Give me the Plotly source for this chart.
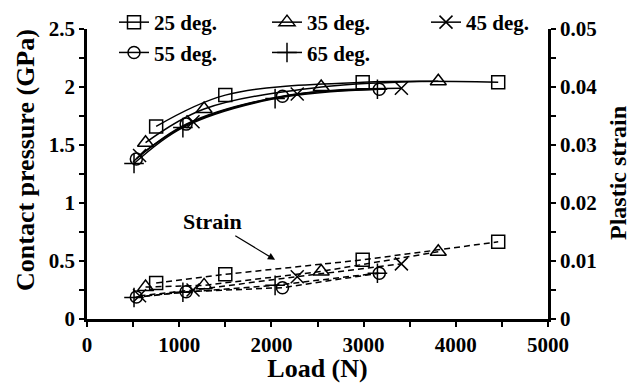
import plotly.graph_objects as go

# ---------------- data ----------------
series_names = ["25 deg.", "35 deg.", "45 deg.", "55 deg.", "65 deg."]
load_25 = [750, 1500, 2990, 4460]
load_35 = [635, 1270, 2540, 3810]
load_45 = [570, 1150, 2280, 3410]
load_55 = [535, 1075, 2120, 3170]
load_65 = [510, 1040, 2040, 3150]

pressure_25 = [1.66, 1.93, 2.04, 2.04]
pressure_35 = [1.52, 1.81, 2.00, 2.05]
pressure_45 = [1.41, 1.70, 1.94, 1.99]
pressure_55 = [1.38, 1.68, 1.92, 1.98]
pressure_65 = [1.34, 1.65, 1.90, 1.98]

strain_25 = [0.0062, 0.0077, 0.0102, 0.0133]
strain_35 = [0.0055, 0.0058, 0.0082, 0.0116]
strain_45 = [0.0040, 0.0050, 0.0073, 0.0095]
strain_55 = [0.0038, 0.0047, 0.0054, 0.0079]
strain_65 = [0.0037, 0.0046, 0.0058, 0.0079]

x_ticks = [0, 1000, 2000, 3000, 4000, 5000]
y_ticks = [0, 0.5, 1, 1.5, 2, 2.5]
y2_ticks = [0, 0.01, 0.02, 0.03, 0.04, 0.05]

x_title = "Load (N)"
y_title = "Contact pressure (GPa)"
y2_title = "Plastic strain"

loads = [load_25, load_35, load_45, load_55, load_65]
pressures = [pressure_25, pressure_35, pressure_45, pressure_55, pressure_65]
strains = [strain_25, strain_35, strain_45, strain_55, strain_65]
symbols = ["square-open", "triangle-up-open", "x-thin-open", "circle-open", "cross-thin-open"]
sizes = [13, 14, 13, 12, 14]
legend_ids = ["legend", "legend2", "legend3", "legend", "legend2"]

FONT = "Liberation Serif"
W, H = 634, 383
ML, MR, MT, MB = 87, 86, 29, 64
PW, PH = W - ML - MR, H - MT - MB

fig = go.Figure()
for name, x, p, sym, sz, lg in zip(series_names, loads, pressures, symbols, sizes, legend_ids):
    fig.add_trace(go.Scatter(
        x=x, y=p, name=name, mode="lines+markers", legend=lg,
        line=dict(color="black", width=1.5, shape="spline", smoothing=1.0),
        marker=dict(symbol=sym, size=sz, color="black",
                    line=dict(color="black", width=1.5)),
    ))
for name, x, s, sym, sz in zip(series_names, loads, strains, symbols, sizes):
    fig.add_trace(go.Scatter(
        x=x, y=s, name=name + " strain", mode="lines+markers", yaxis="y2",
        showlegend=False,
        line=dict(color="black", width=1.5, dash="6px,4px"),
        marker=dict(symbol=sym, size=sz, color="black",
                    line=dict(color="black", width=1.5)),
    ))

fig.add_annotation(
    x=2040, y=0.51, xref="x", yref="y",
    text="Strain", showarrow=True, ax=-63, ay=-38,
    arrowhead=2, arrowsize=1.2, arrowwidth=1.2, arrowcolor="black",
    font=dict(family=FONT, size=22, color="black", weight="bold"),
)

title_font = dict(family=FONT, size=26, color="black", weight="bold")
# y-axis titles as rotated paper-anchored texts
fig.add_annotation(
    x=(25 - ML) / PW, y=(H - MB - 160) / PH, xref="paper", yref="paper",
    text=y_title, textangle=-90, showarrow=False, font=title_font,
    xanchor="center", yanchor="middle",
)
fig.add_annotation(
    x=(618 - ML) / PW, y=(H - MB - 173) / PH, xref="paper", yref="paper",
    text=y2_title, textangle=-90, showarrow=False,
    font=dict(family=FONT, size=24, color="black", weight="bold"),
    xanchor="center", yanchor="middle",
)

axis_common = dict(
    showline=True, linecolor="black", linewidth=2.5,
    ticks="outside", ticklen=5, tickwidth=2, tickcolor="black",
    showgrid=False, zeroline=False,
    tickfont=dict(family=FONT, size=21, color="black", weight="bold"),
)
minor_common = dict(ticks="outside", ticklen=5, tickwidth=2, tickcolor="black")


def legend_at(px_left, px_top):
    return dict(orientation="v", xref="container", yref="container",
                x=px_left / W, y=1 - px_top / H, xanchor="left", yanchor="top",
                bgcolor="rgba(0,0,0,0)", tracegroupgap=0,
                font=dict(family=FONT, size=21, color="black", weight="bold"))


fig.update_layout(
    width=W, height=H,
    margin=dict(l=ML, r=MR, t=MT, b=MB, autoexpand=False),
    paper_bgcolor="white", plot_bgcolor="white",
    font=dict(family=FONT, color="black", weight="bold"),
    xaxis=dict(range=[0, 5000], tickvals=x_ticks, minor=dict(dtick=500, **minor_common),
               title=dict(text=x_title, font=title_font, standoff=2),
               **axis_common),
    yaxis=dict(range=[0, 2.5], tickvals=y_ticks, minor=dict(dtick=0.25, **minor_common),
               **axis_common),
    yaxis2=dict(range=[0, 0.05], tickvals=y2_ticks, overlaying="y", side="right",
                minor=dict(dtick=0.005, **minor_common),
                **axis_common),
    legend=legend_at(114, 2),
    legend2=legend_at(267, 2),
    legend3=legend_at(426, 2),
    showlegend=True,
)

fig.write_html("out.html")
